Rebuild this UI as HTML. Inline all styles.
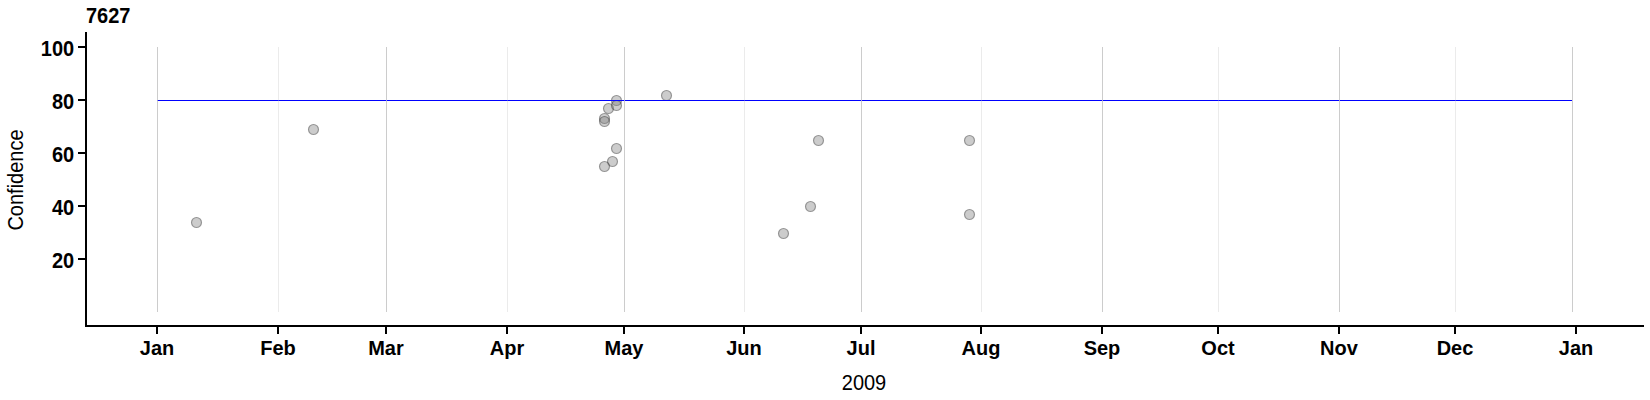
<!DOCTYPE html><html><head><meta charset="utf-8"><title>7627</title><style>html,body{margin:0;padding:0;background:#fff;overflow:hidden}svg{display:block}text{font-family:"Liberation Sans",Arial,sans-serif}</style></head><body>
<svg width="1650" height="400" viewBox="0 0 1650 400">
<rect width="1650" height="400" fill="#fff"/>
<g fill="#7f7f7f" fill-opacity="0.4" stroke="#222" stroke-opacity="0.42" stroke-width="1.15">
<circle cx="196.5" cy="222.5" r="5"/>
<circle cx="313.5" cy="129.5" r="5"/>
<circle cx="604.5" cy="118.5" r="5"/>
<circle cx="604.5" cy="121.5" r="5"/>
<circle cx="608.5" cy="108.5" r="5"/>
<circle cx="616.5" cy="100.5" r="5"/>
<circle cx="616.5" cy="105.5" r="5"/>
<circle cx="616.5" cy="148.5" r="5"/>
<circle cx="612.5" cy="161.5" r="5"/>
<circle cx="604.5" cy="166.5" r="5"/>
<circle cx="666.5" cy="95.5" r="5"/>
<circle cx="783.5" cy="233.5" r="5"/>
<circle cx="810.5" cy="206.5" r="5"/>
<circle cx="818.5" cy="140.5" r="5"/>
<circle cx="969.5" cy="140.5" r="5"/>
<circle cx="969.5" cy="214.5" r="5"/>
</g>
<rect x="157" y="100" width="1415" height="1" fill="#0000ff" shape-rendering="crispEdges"/>
<g shape-rendering="crispEdges" fill="#bfbfbf">
<rect x="157" y="47" width="1" height="265" fill-opacity="0.8"/>
<rect x="278" y="47" width="1" height="265" fill-opacity="0.31"/>
<rect x="386" y="47" width="1" height="265" fill-opacity="0.8"/>
<rect x="507" y="47" width="1" height="265" fill-opacity="0.31"/>
<rect x="624" y="47" width="1" height="265" fill-opacity="0.8"/>
<rect x="744" y="47" width="1" height="265" fill-opacity="0.31"/>
<rect x="861" y="47" width="1" height="265" fill-opacity="0.8"/>
<rect x="981" y="47" width="1" height="265" fill-opacity="0.31"/>
<rect x="1102" y="47" width="1" height="265" fill-opacity="0.8"/>
<rect x="1218" y="47" width="1" height="265" fill-opacity="0.31"/>
<rect x="1339" y="47" width="1" height="265" fill-opacity="0.8"/>
<rect x="1455" y="47" width="1" height="265" fill-opacity="0.31"/>
<rect x="1572" y="47" width="1" height="265" fill-opacity="0.8"/>
</g>
<g shape-rendering="crispEdges" fill="#000">
<rect x="85" y="32" width="2" height="295"/>
<rect x="85" y="325" width="1559" height="2"/>
<rect x="156" y="327" width="2" height="7"/>
<rect x="277" y="327" width="2" height="7"/>
<rect x="385" y="327" width="2" height="7"/>
<rect x="506" y="327" width="2" height="7"/>
<rect x="623" y="327" width="2" height="7"/>
<rect x="743" y="327" width="2" height="7"/>
<rect x="860" y="327" width="2" height="7"/>
<rect x="980" y="327" width="2" height="7"/>
<rect x="1101" y="327" width="2" height="7"/>
<rect x="1217" y="327" width="2" height="7"/>
<rect x="1338" y="327" width="2" height="7"/>
<rect x="1454" y="327" width="2" height="7"/>
<rect x="1575" y="327" width="2" height="7"/>
<rect x="78" y="46" width="7" height="2"/>
<rect x="78" y="99" width="7" height="2"/>
<rect x="78" y="152" width="7" height="2"/>
<rect x="78" y="205" width="7" height="2"/>
<rect x="78" y="258" width="7" height="2"/>
</g>
<g font-size="20" font-weight="bold" fill="#000">
<text transform="translate(157,355) scale(1,1.035)" text-anchor="middle">Jan</text>
<text transform="translate(278,355) scale(1,1.035)" text-anchor="middle">Feb</text>
<text transform="translate(386,355) scale(1,1.035)" text-anchor="middle">Mar</text>
<text transform="translate(507,355) scale(1,1.035)" text-anchor="middle">Apr</text>
<text transform="translate(624,355) scale(1,1.035)" text-anchor="middle">May</text>
<text transform="translate(744,355) scale(1,1.035)" text-anchor="middle">Jun</text>
<text transform="translate(861,355) scale(1,1.035)" text-anchor="middle">Jul</text>
<text transform="translate(981,355) scale(1,1.035)" text-anchor="middle">Aug</text>
<text transform="translate(1102,355) scale(1,1.035)" text-anchor="middle">Sep</text>
<text transform="translate(1218,355) scale(1,1.035)" text-anchor="middle">Oct</text>
<text transform="translate(1339,355) scale(1,1.035)" text-anchor="middle">Nov</text>
<text transform="translate(1455,355) scale(1,1.035)" text-anchor="middle">Dec</text>
<text transform="translate(1576,355) scale(1,1.035)" text-anchor="middle">Jan</text>
<text transform="translate(74.2,55.5) scale(1.0,1.07)" text-anchor="end">100</text>
<text transform="translate(74.2,108.5) scale(1.0,1.07)" text-anchor="end">80</text>
<text transform="translate(74.2,161.5) scale(1.0,1.07)" text-anchor="end">60</text>
<text transform="translate(74.2,214.5) scale(1.0,1.07)" text-anchor="end">40</text>
<text transform="translate(74.2,267.5) scale(1.0,1.07)" text-anchor="end">20</text>
<text transform="translate(86,22.5) scale(1.0,1.07)">7627</text>
</g>
<g font-size="20" fill="#000">
<text transform="translate(864,389.5) scale(1.0,1.07)" text-anchor="middle">2009</text>
<text transform="translate(23,180) rotate(-90) scale(1.0,1.07)" text-anchor="middle">Confidence</text>
</g>
</svg></body></html>
